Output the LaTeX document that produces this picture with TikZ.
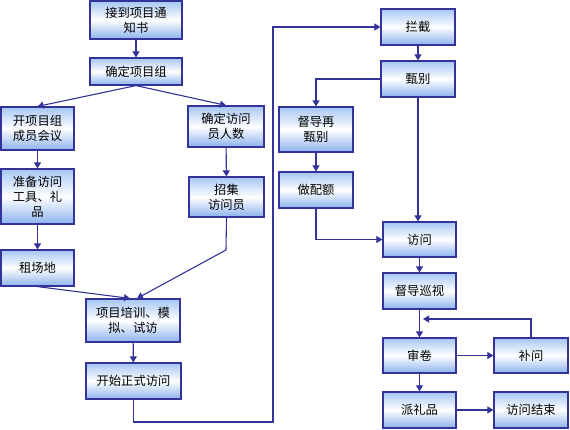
\documentclass[tikz,border=0pt]{standalone}
\usepackage{fontspec}
\setmainfont{Noto Sans CJK SC}
\usetikzlibrary{arrows.meta}
\definecolor{ln}{HTML}{333399}
\definecolor{btop}{HTML}{A6C6F4}
\definecolor{bbot}{HTML}{8CB2EE}
\begin{document}
\begin{tikzpicture}[x=1pt,y=-1pt,
  box/.style={draw=ln, line width=1.2pt, top color=btop, bottom color=bbot, middle color=white,
    align=center, inner sep=0pt, font=\fontsize{12.3}{15}\selectfont, text=black},
  conn/.style={draw=ln, line width=1.1pt, -{Triangle[length=6pt,width=7pt]}},
  plain/.style={draw=ln, line width=1.1pt}]
\useasboundingbox (0,0) rectangle (570,430);
% left column
\node[box, minimum width=92pt, minimum height=38pt] (n1) at (136,20) {接到项目通\\知书};
\node[box, minimum width=92pt, minimum height=27pt] (n2) at (136,71.5) {确定项目组};
\node[box, minimum width=73pt, minimum height=43pt] (n3) at (37.5,128.5) {开项目组\\成员会议};
\node[box, minimum width=76pt, minimum height=41pt] (n4) at (226,126.5) {确定访问\\员人数};
\node[box, minimum width=73pt, minimum height=55pt] (n5) at (37.5,196.5) {准备访问\\工具、礼\\品};
\node[box, minimum width=75pt, minimum height=40pt] (n6) at (226.5,197) {招集\\访问员};
\node[box, minimum width=73pt, minimum height=36pt] (n7) at (37.5,268) {租场地};
\node[box, minimum width=94pt, minimum height=43pt] (n8) at (133,320.5) {项目培训、模\\拟、试访};
\node[box, minimum width=95pt, minimum height=36pt] (n9) at (133.5,381) {开始正式访问};
% right column
\node[box, minimum width=74pt, minimum height=36pt] (r1) at (418,27) {拦截};
\node[box, minimum width=74pt, minimum height=36pt] (r2) at (418,79) {甄别};
\node[box, minimum width=74pt, minimum height=45pt] (r3) at (316,129.5) {督导再\\甄别};
\node[box, minimum width=74pt, minimum height=36pt] (r4) at (316,190) {做配额};
\node[box, minimum width=73pt, minimum height=35pt] (r5) at (419.5,239.5) {访问};
\node[box, minimum width=73pt, minimum height=36pt] (r6) at (419.5,291) {督导巡视};
\node[box, minimum width=73pt, minimum height=35pt] (r7) at (419.5,355.5) {审卷};
\node[box, minimum width=74pt, minimum height=35pt] (r8) at (531,355.5) {补问};
\node[box, minimum width=73pt, minimum height=36pt] (r9) at (419.5,410) {派礼品};
\node[box, minimum width=74pt, minimum height=36pt] (r10) at (531,410) {访问结束};
% helper coordinates
\coordinate (c1) at (273,422);
\coordinate (c2) at (423,319);
\coordinate (c3) at (226,250);
% connectors
\draw[conn] (n1) -- (n2);
\draw[conn] (n2.south) -- (n3.north);
\draw[conn] (n2.south) -- (n4.north);
\draw[conn] (n3) -- (n5);
\draw[conn] (n5) -- (n7);
\draw[conn] (n4) -- (n6);
\draw[conn] (n7.south) -- ([xshift=-3pt]n8.north);
\draw[conn] (n6.south) -- (c3) -- ([xshift=4pt]n8.north);
\draw[conn] (n8) -- (n9);
\draw[conn] (n9.south) |- (c1) |- (r1.west);
\draw[conn] (r1) -- (r2);
\draw[conn] (r2.west) -| (r3.north);
\draw[conn] (r2.south) -- (r2.south |- r5.north);
\draw[conn] (r3) -- (r4);
\draw[conn] (r4.south) |- (r5.west);
\draw[conn] (r5) -- (r6);
\draw[conn] (r6) -- (r7);
\draw[conn] (r7) -- (r8);
\draw[conn] (r8.north) |- (c2);
\draw[conn] (r7) -- (r9);
\draw[conn] (r9) -- (r10);
\end{tikzpicture}
\end{document}
